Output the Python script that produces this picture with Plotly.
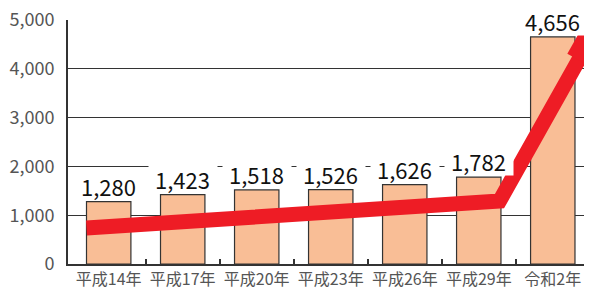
import plotly.graph_objects as go

categories = ["平成14年", "平成17年", "平成20年", "平成23年", "平成26年", "平成29年", "令和2年"]
values = [1280, 1423, 1518, 1526, 1626, 1782, 4656]
value_labels = ["1,280", "1,423", "1,518", "1,526", "1,626", "1,782", "4,656"]

# trend arrow path (category position, value): start, kink, tip
arrow_x = [-0.3, 5.28, 6.8]
arrow_y = [740, 1290, 5400]
# where the wider arrow head begins
head_x = [6.35, 6.8]
head_y = [4180, 5400]

FONT = "Noto Sans CJK JP, Liberation Sans, Arial, sans-serif"
DARK = "#333333"
RED = "#EE1C25"

fig = go.Figure()
fig.add_trace(go.Bar(
    x=list(range(len(categories))), y=values, width=0.6,
    marker=dict(color="#F9BE96", line=dict(color=DARK, width=1.2)),
    hoverinfo="skip", showlegend=False,
))
fig.add_trace(go.Scatter(
    x=arrow_x, y=arrow_y, mode="lines",
    line=dict(color=RED, width=15),
    cliponaxis=False, hoverinfo="skip", showlegend=False,
))
fig.add_trace(go.Scatter(
    x=head_x, y=head_y, mode="lines",
    line=dict(color=RED, width=26),
    cliponaxis=False, hoverinfo="skip", showlegend=False,
))

for i, (v, t) in enumerate(zip(values, value_labels)):
    # white mask that hides gridlines behind the label (sits on the bar top)
    fig.add_annotation(
        x=i, y=v, text="\u00a0", showarrow=False, yanchor="bottom", yshift=1,
        font=dict(family=FONT, size=22, color="white"),
        bgcolor="white", borderpad=0, width=68,
    )
    # the label itself
    fig.add_annotation(
        x=i, y=v, text=t, showarrow=False, yanchor="bottom", yshift=-2,
        font=dict(family=FONT, size=22, color="#111111"),
    )

# the page body adds an 8px offset; margins compensate for it
fig.update_layout(
    width=592, height=291,
    margin=dict(l=60, r=8, t=12, b=35, autoexpand=False),
    plot_bgcolor="white", paper_bgcolor="white",
    font=dict(family=FONT, color="#555555"),
    xaxis=dict(
        tickmode="array", tickvals=list(range(len(categories))), ticktext=categories,
        range=[-0.55, 6.53], showgrid=False, zeroline=False, automargin=False,
        showline=True, linecolor=DARK, linewidth=2,
        ticks="", tickfont=dict(size=16, color="#555555"), ticklabelstandoff=0,
        ticklabeloverflow="allow",
        minor=dict(tickvals=[i + 0.5 for i in range(len(categories) - 1)],
                   ticks="inside", ticklen=5, tickcolor=DARK, tickwidth=1.5,
                   showgrid=False),
    ),
    yaxis=dict(
        range=[0, 5003], tickvals=[0, 1000, 2000, 3000, 4000, 5000],
        ticktext=["0", "1,000", "2,000", "3,000", "4,000", "5,000"],
        showgrid=True, gridcolor=DARK, gridwidth=1.2, zeroline=False, automargin=False,
        showline=True, linecolor=DARK, linewidth=2, ticks="",
        ticklabeloverflow="allow",
        tickfont=dict(size=18, color="#555555"), ticklabelstandoff=8,
    ),
)

fig.write_html("out.html")
